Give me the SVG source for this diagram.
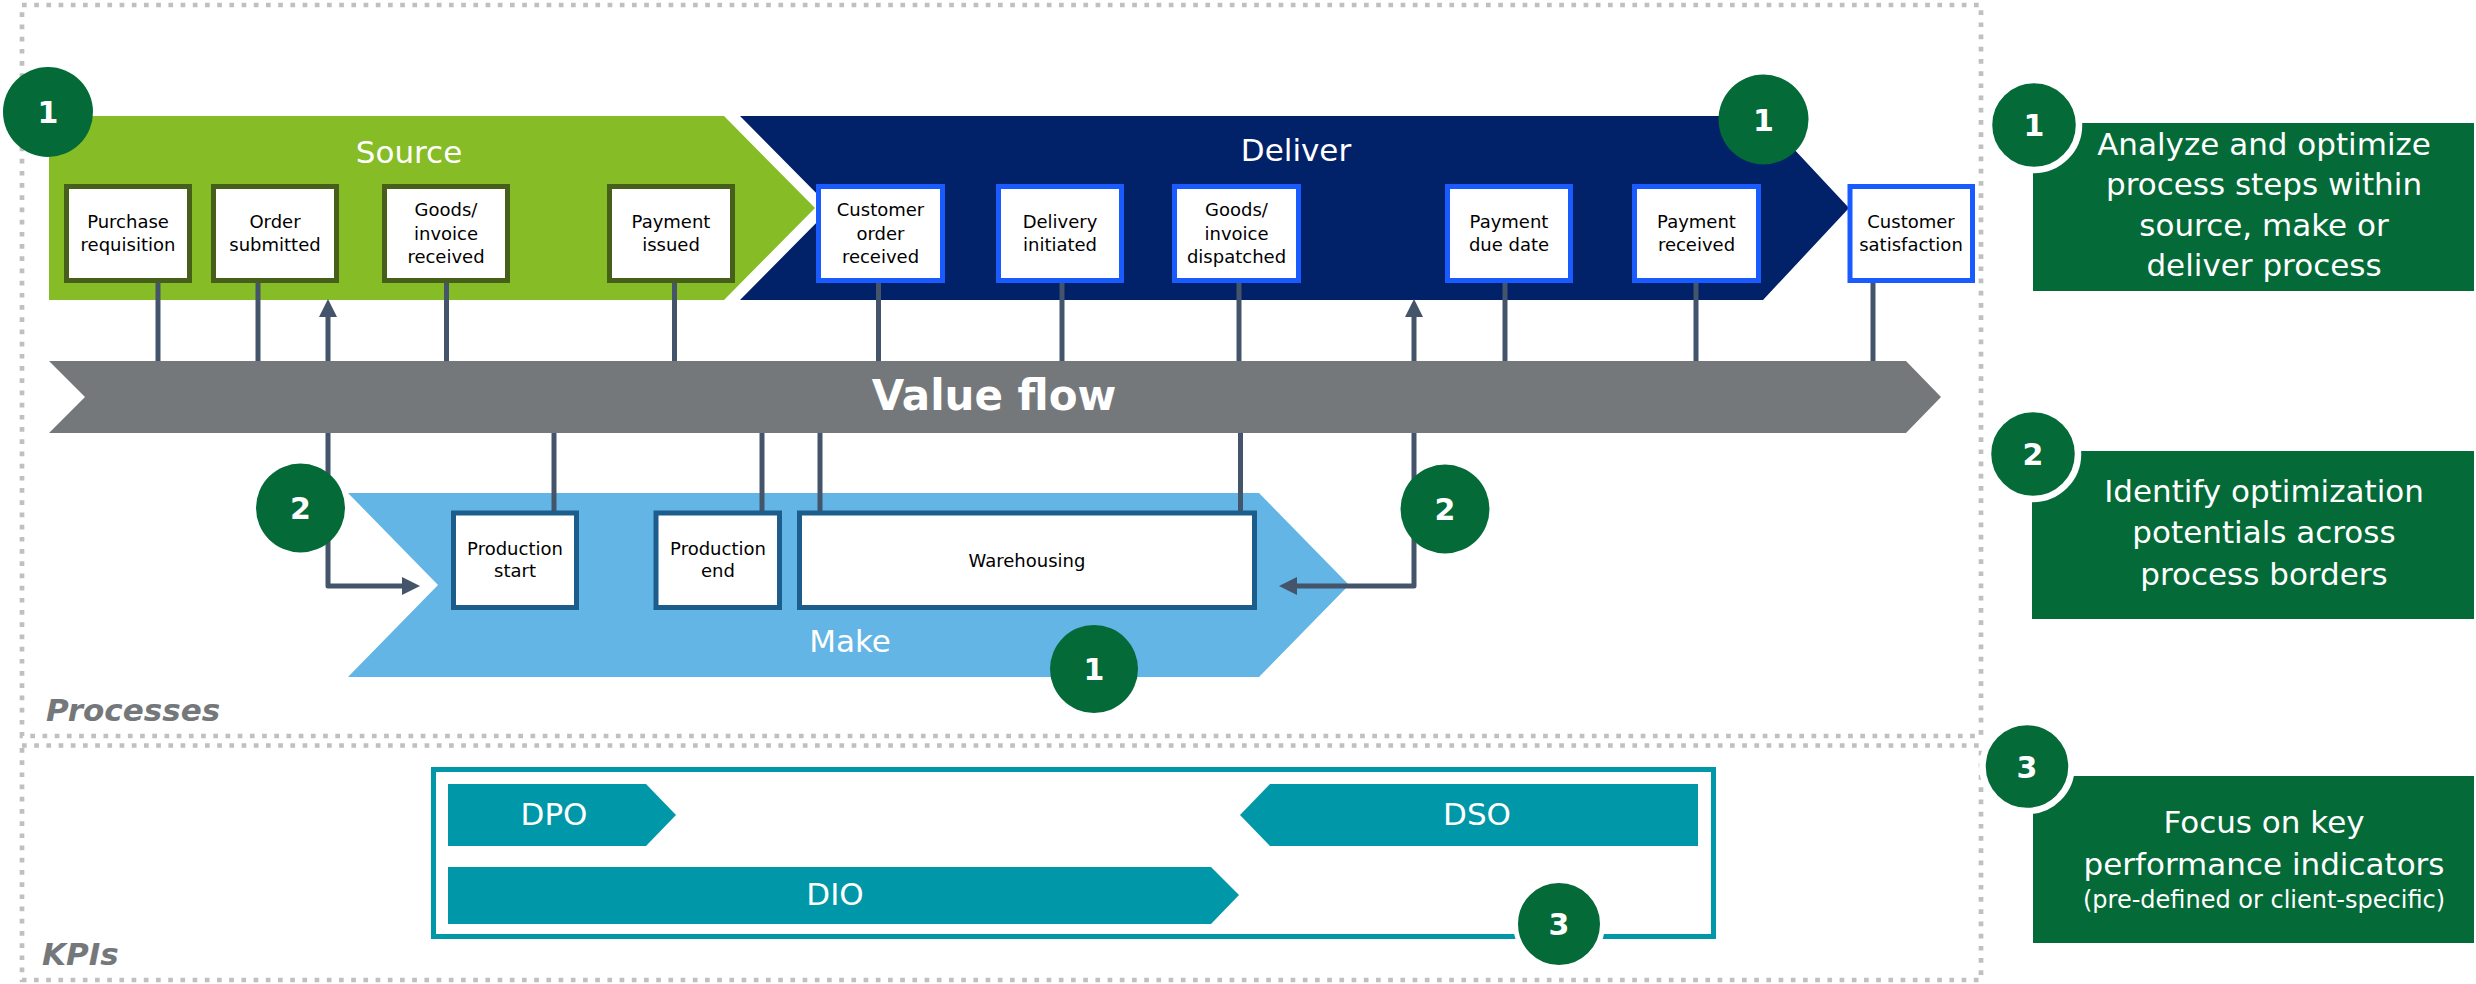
<svg xmlns="http://www.w3.org/2000/svg" width="2476" height="984" viewBox="0 0 2476 984">
<style>
text{font-family:"DejaVu Sans","Liberation Sans",Arial,sans-serif}
.frame{fill:none;stroke:#C0C0C0;stroke-width:4.7;stroke-dasharray:4.7 7.5}
.sec{font-size:31px;font-weight:bold;font-style:italic;fill:#75787B}
.stage{font-size:31px;fill:#FFFFFF;text-anchor:middle}
.bx{fill:#FFFFFF;stroke-width:5}
.src{stroke:#46601B}
.dlv{stroke:#1A5BFF}
.mk{stroke:#1C5D8C}
.bt{font-size:18px;fill:#000000;text-anchor:middle}
.con{fill:none;stroke:#44546A;stroke-width:5;stroke-linejoin:round}
.num{fill:#046A38}
.numr{fill:#046A38;stroke:#FFFFFF}
.nt{font-size:30px;font-weight:bold;fill:#FFFFFF;text-anchor:middle}
.kpi{fill:#0097A9}
.kt{font-size:31px;fill:#FFFFFF;text-anchor:middle}
.leg{fill:#046A38}
.lt{font-size:31px;fill:#FFFFFF;text-anchor:middle}
</style>
<defs>
<marker id="ah" markerUnits="userSpaceOnUse" markerWidth="18" markerHeight="18" viewBox="0 0 18 18" refX="0" refY="9" orient="auto">
<path d="M0,0 L18,9 L0,18 z" fill="#44546A"/>
</marker>
</defs>
<rect width="2476" height="984" fill="#FFFFFF"/>

<g id="frames">
<rect class="frame" x="22" y="5" width="1959" height="731"/>
<rect class="frame" x="22" y="745.5" width="1959" height="234.5"/>
<text class="sec" x="46" y="721">Processes</text>
<text class="sec" x="42" y="965">KPIs</text>
</g>

<g id="source">
<polygon points="49,116 724,116 815,208 724,300 49,300" fill="#86BC25"/>
<text class="stage" x="409" y="163">Source</text>
</g>
<g id="deliver">
<polygon points="740,116 1763,116 1849,208 1763,300 740,300 831,208" fill="#012169"/>
<text class="stage" x="1296" y="161">Deliver</text>
</g>
<g id="make">
<polygon points="348,493 1259,493 1349,585 1259,677 348,677 438,585" fill="#62B5E5"/>
<text class="stage" x="850" y="652">Make</text>
</g>
<g id="valueflow">
<polygon points="49,361 1906,361 1941,397 1906,433 49,433 85,397" fill="#75787B"/>
<text x="994" y="410" font-size="42" font-weight="bold" fill="#FFFFFF" text-anchor="middle">Value flow</text>
</g>

<g id="kpis">
<rect x="433.5" y="769.5" width="1280" height="167" fill="none" stroke="#0097A9" stroke-width="5"/>
<g id="dpo">
<polygon class="kpi" points="448,784 646,784 676,815 646,846 448,846"/>
<text class="kt" x="554" y="825">DPO</text>
</g>
<g id="dio">
<polygon class="kpi" points="448,867 1211,867 1239,895 1211,924 448,924"/>
<text class="kt" x="835" y="905">DIO</text>
</g>
<g id="dso">
<polygon class="kpi" points="1240,815 1270,784 1698,784 1698,846 1270,846"/>
<text class="kt" x="1477" y="825">DSO</text>
</g>
</g>

<g id="connectors">
<path class="con" d="M158,283 V361"/>
<path class="con" d="M258,283 V361"/>
<path class="con" d="M446.5,283 V361"/>
<path class="con" d="M674.5,283 V361"/>
<path class="con" d="M878.5,283 V361"/>
<path class="con" d="M1062,283 V361"/>
<path class="con" d="M1239,283 V361"/>
<path class="con" d="M1505,283 V361"/>
<path class="con" d="M1696,283 V361"/>
<path class="con" d="M1873,283 V361"/>
<path class="con" d="M328,361 V317" marker-end="url(#ah)"/>
<path class="con" d="M1414,361 V317" marker-end="url(#ah)"/>
<path class="con" d="M554,433 V511"/>
<path class="con" d="M762,433 V511"/>
<path class="con" d="M820,433 V511"/>
<path class="con" d="M1240.5,433 V511"/>
<path class="con" d="M328,433 V586 H402" marker-end="url(#ah)"/>
<path class="con" d="M1414,433 V586 H1297" marker-end="url(#ah)"/>
</g>

<g id="purchase-requisition">
<rect class="bx src" x="66.5" y="186.5" width="123" height="94"/>
<text class="bt" x="128" y="228">Purchase</text>
<text class="bt" x="128" y="251">requisition</text>
</g>
<g id="order-submitted">
<rect class="bx src" x="213.5" y="186.5" width="123" height="94"/>
<text class="bt" x="275" y="228">Order</text>
<text class="bt" x="275" y="251">submitted</text>
</g>
<g id="goods-invoice-received">
<rect class="bx src" x="384.5" y="186.5" width="123" height="94"/>
<text class="bt" x="446" y="216">Goods/</text>
<text class="bt" x="446" y="239.5">invoice</text>
<text class="bt" x="446" y="263">received</text>
</g>
<g id="payment-issued">
<rect class="bx src" x="609.5" y="186.5" width="123" height="94"/>
<text class="bt" x="671" y="228">Payment</text>
<text class="bt" x="671" y="251">issued</text>
</g>
<g id="customer-order-received">
<rect class="bx dlv" x="818.5" y="186.5" width="124" height="94"/>
<text class="bt" x="880.5" y="216">Customer</text>
<text class="bt" x="880.5" y="239.5">order</text>
<text class="bt" x="880.5" y="263">received</text>
</g>
<g id="delivery-initiated">
<rect class="bx dlv" x="998.5" y="186.5" width="123" height="94"/>
<text class="bt" x="1060" y="228">Delivery</text>
<text class="bt" x="1060" y="251">initiated</text>
</g>
<g id="goods-invoice-dispatched">
<rect class="bx dlv" x="1174.5" y="186.5" width="124" height="94"/>
<text class="bt" x="1236.5" y="216">Goods/</text>
<text class="bt" x="1236.5" y="239.5">invoice</text>
<text class="bt" x="1236.5" y="263">dispatched</text>
</g>
<g id="payment-due-date">
<rect class="bx dlv" x="1447.5" y="186.5" width="123" height="94"/>
<text class="bt" x="1509" y="228">Payment</text>
<text class="bt" x="1509" y="251">due date</text>
</g>
<g id="payment-received">
<rect class="bx dlv" x="1634.5" y="186.5" width="124" height="94"/>
<text class="bt" x="1696.5" y="228">Payment</text>
<text class="bt" x="1696.5" y="251">received</text>
</g>
<g id="customer-satisfaction">
<rect class="bx dlv" x="1850" y="186.5" width="122.5" height="94"/>
<text class="bt" x="1911" y="228">Customer</text>
<text class="bt" x="1911" y="251">satisfaction</text>
</g>
<g id="production-start">
<rect class="bx mk" x="453.5" y="513" width="123" height="94.5"/>
<text class="bt" x="515" y="555">Production</text>
<text class="bt" x="515" y="577">start</text>
</g>
<g id="production-end">
<rect class="bx mk" x="656" y="513" width="123.5" height="94.5"/>
<text class="bt" x="718" y="555">Production</text>
<text class="bt" x="718" y="577">end</text>
</g>
<g id="warehousing">
<rect class="bx mk" x="799.5" y="513" width="455" height="94.5"/>
<text class="bt" x="1027" y="567">Warehousing</text>
</g>

<g id="markers">
<g id="m1-source"><circle class="num" cx="48" cy="112" r="45"/><text class="nt" x="48" y="123">1</text></g>
<g id="m1-deliver"><circle class="num" cx="1763.5" cy="119.5" r="45"/><text class="nt" x="1763.5" y="130.5">1</text></g>
<g id="m2-left"><circle class="num" cx="300.5" cy="508" r="44.5"/><text class="nt" x="300.5" y="519">2</text></g>
<g id="m2-right"><circle class="num" cx="1445" cy="509" r="44.5"/><text class="nt" x="1445" y="520">2</text></g>
<g id="m1-make"><circle class="num" cx="1094" cy="669" r="44"/><text class="nt" x="1094" y="680">1</text></g>
<g id="m3-kpi"><circle class="numr" cx="1559" cy="924" r="43.5" stroke-width="5"/><text class="nt" x="1559" y="935">3</text></g>
</g>

<g id="legend-1">
<rect class="leg" x="2033" y="123" width="441" height="168"/>
<circle class="numr" cx="2034" cy="125" r="45" stroke-width="6.5"/>
<text class="nt" x="2034" y="136">1</text>
<text class="lt" x="2264" y="155">Analyze and optimize</text>
<text class="lt" x="2264" y="195">process steps within</text>
<text class="lt" x="2264" y="236">source, make or</text>
<text class="lt" x="2264" y="276">deliver process</text>
</g>
<g id="legend-2">
<rect class="leg" x="2032" y="451" width="442" height="168"/>
<circle class="numr" cx="2033" cy="454" r="45" stroke-width="6.5"/>
<text class="nt" x="2033" y="465">2</text>
<text class="lt" x="2264" y="502">Identify optimization</text>
<text class="lt" x="2264" y="543">potentials across</text>
<text class="lt" x="2264" y="585">process borders</text>
</g>
<g id="legend-3">
<rect class="leg" x="2033" y="776" width="441" height="167"/>
<circle class="numr" cx="2027" cy="766.5" r="44.5" stroke-width="6.5"/>
<text class="nt" x="2027" y="777.5">3</text>
<text class="lt" x="2264" y="833">Focus on key</text>
<text class="lt" x="2264" y="875">performance indicators</text>
<text x="2264" y="908" font-size="24" fill="#FFFFFF" text-anchor="middle">(pre-defined or client-specific)</text>
</g>
</svg>
